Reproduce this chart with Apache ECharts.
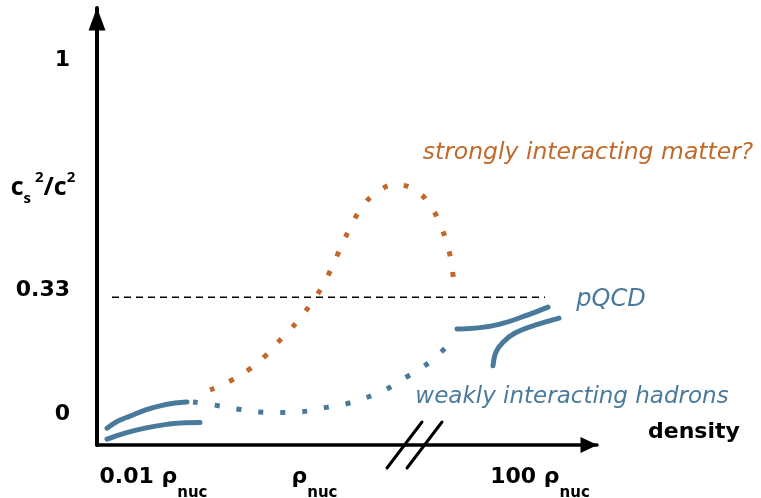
<!DOCTYPE html>
<html>
<head>
<meta charset="utf-8">
<script src="https://cdn.jsdelivr.net/npm/echarts@6/dist/echarts.min.js"></script>
<style>html,body{margin:0;padding:0;background:#fff}#c{width:761px;height:498px}</style>
</head>
<body>
<div id="c"></div>
<script>
// Axis ticks
var yTickValues = [0, 0.33, 1];
var yTickLabels = ['0', '{hi|0.33}', '1'];
var xTickValues = [11.3, 43.5, 88.6];
var xTickLabels = ['{a|0.01 ρ}{b|nuc}', '{a|ρ}{b|nuc}', '{a|100 ρ}{b|nuc}'];

// Curves (density in arbitrary schematic units 0..100, cs^2/c^2)
var hadronUpper = [[2,-0.040],[4.2,-0.020],[6.6,-0.006],[9.6,0.011],[12.6,0.023],[15.6,0.031],[18,0.034]];
var hadronLower = [[2,-0.071],[5.6,-0.054],[9.6,-0.040],[13.6,-0.030],[17.6,-0.025],[20.6,-0.024]];
var weakDotted = [[19.2,0.034],[23.6,0.025],[28,0.014],[32.2,0.006],[36.6,0.004],[40.6,0.006],[45.2,0.017],[49.6,0.028],[53.6,0.045],[57.6,0.068],[61.6,0.102],[65.2,0.133],[68.6,0.172],[71.6,0.215]];
var strongDotted = [[22.6,0.068],[27,0.096],[30.8,0.130],[34,0.169],[37,0.215],[40,0.260],[42.6,0.308],[45,0.359],[47,0.415],[48.8,0.472],[50.6,0.525],[52.8,0.579],[55.8,0.624],[59.8,0.647],[63.8,0.630],[66.8,0.585],[68.8,0.528],[70.2,0.472],[71,0.412],[71.6,0.350]];
var pqcdUpper = [[72,0.240],[76.6,0.244],[80.6,0.254],[85.6,0.277],[90.2,0.302]];
var pqcdLower = [[79.2,0.136],[79.8,0.175],[81.2,0.203],[83.6,0.229],[87.6,0.251],[92.4,0.271]];
var conformal = [[3,0.33],[89.6,0.33]];
var breakMark1 = [[58,-0.1525],[65,-0.0226]];
var breakMark2 = [[62,-0.1525],[69,-0.0226]];

// Annotations
var annotations = [
  {name: 'strongly interacting matter?', value: [98.2, 0.737], color: '#c0692a', size: 23.5},
  {name: 'pQCD', value: [102.8, 0.322], color: '#4a7a9b', size: 24},
  {name: 'weakly interacting hadrons', value: [95.0, 0.048], color: '#4a7a9b', size: 23}
];
var yName = '{c|c}{sub|s}{sup| 2}{c|/c}{sup|2}';
var yNamePos = [-10.8, 0.638];

var BLUE = '#4a7a9b', ORANGE = '#c0692a';
var BOLD = 'DejaVu Sans';
var chart = echarts.init(document.getElementById('c'));

function lineSeries(data, color, width, type, smooth) {
  return {
    type: 'line', data: data, showSymbol: false, symbol: 'none', smooth: smooth,
    clip: false, silent: true,
    lineStyle: {color: color, width: width, type: type, cap: type === 'solid' ? 'round' : 'butt'}
  };
}

chart.setOption({
  animation: false,
  grid: {left: 97, right: 164, top: 8, bottom: 53, containLabel: false, outerBoundsMode: 'none'},
  xAxis: {
    type: 'value', min: 0, max: 100,
    name: 'density', nameLocation: 'end', nameGap: 51,
    nameTextStyle: {fontFamily: BOLD, fontWeight: 'bold', fontSize: 22, color: '#000', verticalAlign: 'bottom', lineHeight: 26},
    axisLine: {onZero: false, symbol: ['none', 'triangle'], symbolSize: [16, 17], symbolOffset: [0, -8], lineStyle: {color: '#000', width: 3.5}},
    axisTick: {show: false},
    splitLine: {show: false},
    axisLabel: {
      customValues: xTickValues, margin: 21, color: '#000',
      formatter: function (v) { var i = xTickValues.indexOf(v); return i >= 0 ? xTickLabels[i] : ''; },
      rich: {
        a: {fontFamily: BOLD, fontWeight: 'bold', fontSize: 22, lineHeight: 35, verticalAlign: 'top', color: '#000'},
        b: {fontFamily: BOLD, fontWeight: 'bold', fontSize: 15, verticalAlign: 'bottom', color: '#000'}
      }
    }
  },
  yAxis: {
    type: 'value', min: -0.0876, max: 1.147,
    axisLine: {onZero: false, symbol: ['none', 'triangle'], symbolSize: [17, 23], symbolOffset: [0, -11], lineStyle: {color: '#000', width: 4}},
    axisTick: {show: false},
    splitLine: {show: false},
    axisLabel: {
      customValues: yTickValues, margin: 27, color: '#000',
      fontFamily: BOLD, fontWeight: 'bold', fontSize: 22,
      formatter: function (v) { var i = yTickValues.indexOf(v); return i >= 0 ? yTickLabels[i] : ''; },
      rich: {hi: {fontFamily: BOLD, fontWeight: 'bold', fontSize: 22, color: '#000', padding: [0, 0, 14, 0]}}
    }
  },
  series: [
    lineSeries(conformal, '#000', 1.5, [7, 5], false),
    lineSeries(hadronUpper, BLUE, 5, 'solid', 0.4),
    lineSeries(hadronLower, BLUE, 5, 'solid', 0.4),
    lineSeries(weakDotted, BLUE, 5, [5, 17], 0.5),
    lineSeries(strongDotted, ORANGE, 5, [5, 16], 0.5),
    lineSeries(pqcdUpper, BLUE, 5, 'solid', 0.4),
    lineSeries(pqcdLower, BLUE, 5, 'solid', 0.4),
    lineSeries(breakMark1, '#000', 3, 'solid', false),
    lineSeries(breakMark2, '#000', 3, 'solid', false),
    {
      type: 'scatter', symbolSize: 0, clip: false, silent: true,
      itemStyle: {opacity: 1},
      data: annotations.map(function (a) {
        return {name: a.name, value: a.value, label: {color: a.color, fontSize: a.size}};
      }),
      label: {show: true, position: 'inside', formatter: '{b}', fontFamily: 'DejaVu Sans', fontStyle: 'italic'}
    },
    {
      type: 'scatter', symbolSize: 0, clip: false, silent: true,
      itemStyle: {opacity: 1},
      data: [{name: 'y', value: yNamePos}],
      label: {
        show: true, position: 'inside', formatter: yName,
        rich: {
          c: {fontFamily: 'Open Sans', fontWeight: 'bold', fontSize: 25, lineHeight: 36, color: '#000'},
          sub: {fontFamily: 'Open Sans', fontWeight: 'bold', fontSize: 15, verticalAlign: 'bottom', color: '#000'},
          sup: {fontFamily: 'Open Sans', fontWeight: 'bold', fontSize: 15, verticalAlign: 'top', color: '#000'}
        }
      }
    }
  ]
});
</script>
</body>
</html>
